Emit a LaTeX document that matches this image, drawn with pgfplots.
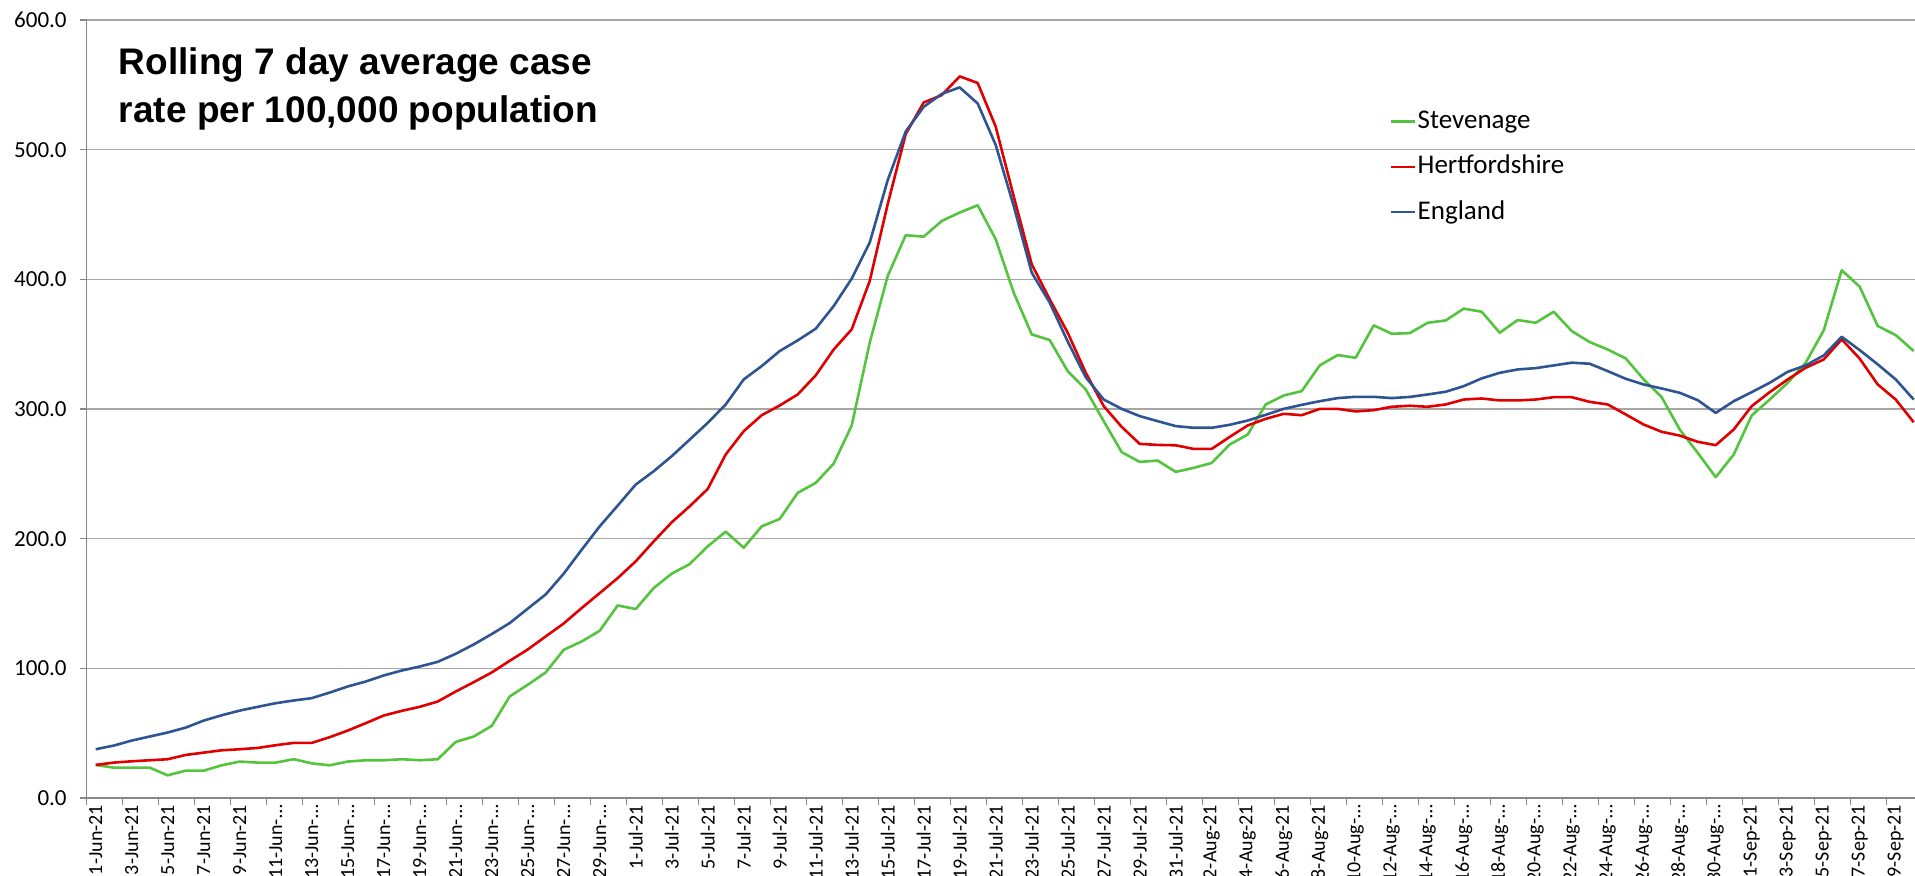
\documentclass[border=0pt]{standalone}
\usepackage{pgfplots}
\pgfplotsset{compat=1.18}
\usepackage{pgfplotstable}
\usepackage{fontspec}
\setmainfont{Carlito}
\newfontfamily\titlefont{Liberation Sans}
\definecolor{stev}{RGB}{84,196,62}
\definecolor{herts}{RGB}{224,0,0}
\definecolor{eng}{RGB}{46,84,146}
\definecolor{gridc}{RGB}{166,166,166}
\definecolor{axc}{RGB}{134,134,134}

\pgfplotstableread{
d s h e
0 25.5 25.5 37.6
1 23.4 27.3 40.4
2 23.4 28.3 44.3
3 23.4 29.1 47.4
4 17.5 29.9 50.5
5 21.1 33.2 54.3
6 21.1 35.0 59.7
7 25.2 36.8 63.8
8 28.1 37.6 67.4
9 27.3 38.6 70.3
10 27.3 40.7 73.1
11 29.9 42.5 75.2
12 26.7 42.5 77.0
13 25.2 46.9 81.3
14 28.1 52.0 86.0
15 29.1 57.7 89.8
16 29.1 63.6 94.5
17 29.9 67.2 98.3
18 29.1 70.3 101.4
19 29.9 74.4 105.0
20 43.2 82.1 111.2
21 47.4 89.3 118.4
22 55.6 96.8 126.4
23 78.3 105.8 134.9
24 87.3 114.5 146.0
25 96.8 124.6 157.0
26 114.3 134.6 173.0
27 120.7 146.5 191.5
28 129.0 158.0 209.5
29 148.5 169.6 225.5
30 145.7 182.5 241.7
31 161.9 197.9 252.0
32 173.0 212.6 263.6
33 180.4 225.0 276.4
34 194.1 238.3 289.3
35 205.4 264.9 303.5
36 193.0 282.9 322.8
37 209.5 295.2 333.1
38 215.2 302.7 344.7
39 235.3 311.2 352.9
40 243.0 325.9 361.9
41 257.9 345.9 379.4
42 287.3 361.4 400.5
43 351.1 398.7 428.3
44 402.6 458.0 476.5
45 434.0 512.0 514.0
46 432.9 536.4 533.0
47 445.0 542.0 543.0
48 451.5 556.5 548.0
49 457.1 551.4 535.6
50 430.9 517.7 503.6
51 389.7 464.0 456.5
52 357.5 411.6 405.2
53 353.2 384.6 382.0
54 329.2 358.8 352.0
55 315.1 328.0 324.5
56 290.6 302.2 307.3
57 266.7 286.2 300.1
58 259.2 273.1 294.5
59 260.2 272.3 290.6
60 251.5 272.0 286.8
61 254.6 269.2 285.5
62 258.4 269.2 285.5
63 272.6 278.5 287.8
64 280.3 287.3 291.1
65 303.5 292.4 295.5
66 310.4 296.3 300.1
67 313.8 295.2 303.2
68 333.6 300.1 306.0
69 341.6 300.1 308.4
70 339.5 298.1 309.4
71 364.5 299.1 309.4
72 358.0 301.7 308.4
73 358.5 302.5 309.3
74 366.5 301.7 311.2
75 368.3 303.5 313.3
76 377.4 307.3 317.6
77 375.0 308.1 323.6
78 358.8 306.6 327.9
79 368.6 306.6 330.5
80 366.5 307.3 331.5
81 375.0 309.1 333.6
82 360.1 309.1 335.7
83 351.6 305.5 334.9
84 345.9 303.5 329.2
85 339.0 295.8 323.3
86 322.8 288.0 318.9
87 309.1 282.4 315.8
88 284.2 279.5 312.5
89 266.2 274.7 306.8
90 247.4 272.1 297.0
91 264.9 284.2 306.0
92 295.0 302.2 313.0
93 307.3 313.0 320.2
94 320.2 322.8 328.7
95 335.7 331.8 333.6
96 360.6 338.2 341.3
97 407.0 353.7 355.7
98 394.3 338.8 345.4
99 364.0 318.9 334.4
100 357.0 307.3 322.8
101 344.7 289.8 307.3
}\datatable

\begin{document}
\begin{tikzpicture}
\begin{axis}[
  at={(0,0)}, anchor=south west,
  scale only axis, width=913.95pt, height=389pt,
  xmin=-0.5, xmax=101.05, ymin=0, ymax=600,
  axis x line*=bottom, axis y line*=left,
  axis line style={axc, line width=0.75pt},
  tick align=outside,
  major tick length=3.5pt,
  tick style={axc, line width=0.75pt},
  ytick={0,100,...,600},
  ymajorgrids, grid style={gridc, line width=0.75pt},
  /pgf/number format/.cd, fixed, fixed zerofill, precision=1, assume math mode=true,
  /pgfplots/.cd,
  yticklabel style={font=\fontsize{11.5}{13}\selectfont, xshift=-3pt},
  xtick={-0.5,1.5,...,101.5},
  xticklabels={},
  extra x ticks={0,2,...,100},
  extra x tick style={major tick length=0pt},
  extra x tick labels={1-Jun-21,3-Jun-21,5-Jun-21,7-Jun-21,9-Jun-21,11-Jun-…,13-Jun-…,15-Jun-…,17-Jun-…,19-Jun-…,21-Jun-…,23-Jun-…,25-Jun-…,27-Jun-…,29-Jun-…,1-Jul-21,3-Jul-21,5-Jul-21,7-Jul-21,9-Jul-21,11-Jul-21,13-Jul-21,15-Jul-21,17-Jul-21,19-Jul-21,21-Jul-21,23-Jul-21,25-Jul-21,27-Jul-21,29-Jul-21,31-Jul-21,2-Aug-21,4-Aug-21,6-Aug-21,8-Aug-21,10-Aug-…,12-Aug-…,14-Aug-…,16-Aug-…,18-Aug-…,20-Aug-…,22-Aug-…,24-Aug-…,26-Aug-…,28-Aug-…,30-Aug-…,1-Sep-21,3-Sep-21,5-Sep-21,7-Sep-21,9-Sep-21},
  xticklabel style={rotate=90, anchor=east, font=\fontsize{10}{12}\selectfont},
  legend cell align=left,
  legend style={at={(rel axis cs:0.7125,0.889)}, anchor=north west, draw=none, fill=none,
    inner sep=0pt, row sep=7.9pt, font=\fontsize{13.5}{15}\selectfont,
    nodes={inner sep=1pt, text height=9.8pt, text depth=3pt}},
  legend image code/.code={\draw[#1, line width=1.1pt] (0pt,0pt) -- (12pt,0pt);},
]
\addplot[stev, line width=1.3pt, line join=round] table[x=d, y=s] {\datatable};
\addlegendentry{Stevenage}
\addplot[herts, line width=1.3pt, line join=round] table[x=d, y=h] {\datatable};
\addlegendentry{Hertfordshire}
\addplot[eng, line width=1.3pt, line join=round] table[x=d, y=e] {\datatable};
\addlegendentry{England}
\node[anchor=base west, inner sep=0pt, font=\titlefont\bfseries\fontsize{18.5}{22}\selectfont] at (rel axis cs:0.0174,0.9302) {Rolling 7 day average case};
\node[anchor=base west, inner sep=0pt, font=\titlefont\bfseries\fontsize{18.5}{22}\selectfont] at (rel axis cs:0.0174,0.8685) {rate per 100,000 population};
\end{axis}
\pgfresetboundingbox
\useasboundingbox (-43.35pt,-39pt) rectangle (914.15pt,399pt);
\end{tikzpicture}
\end{document}
